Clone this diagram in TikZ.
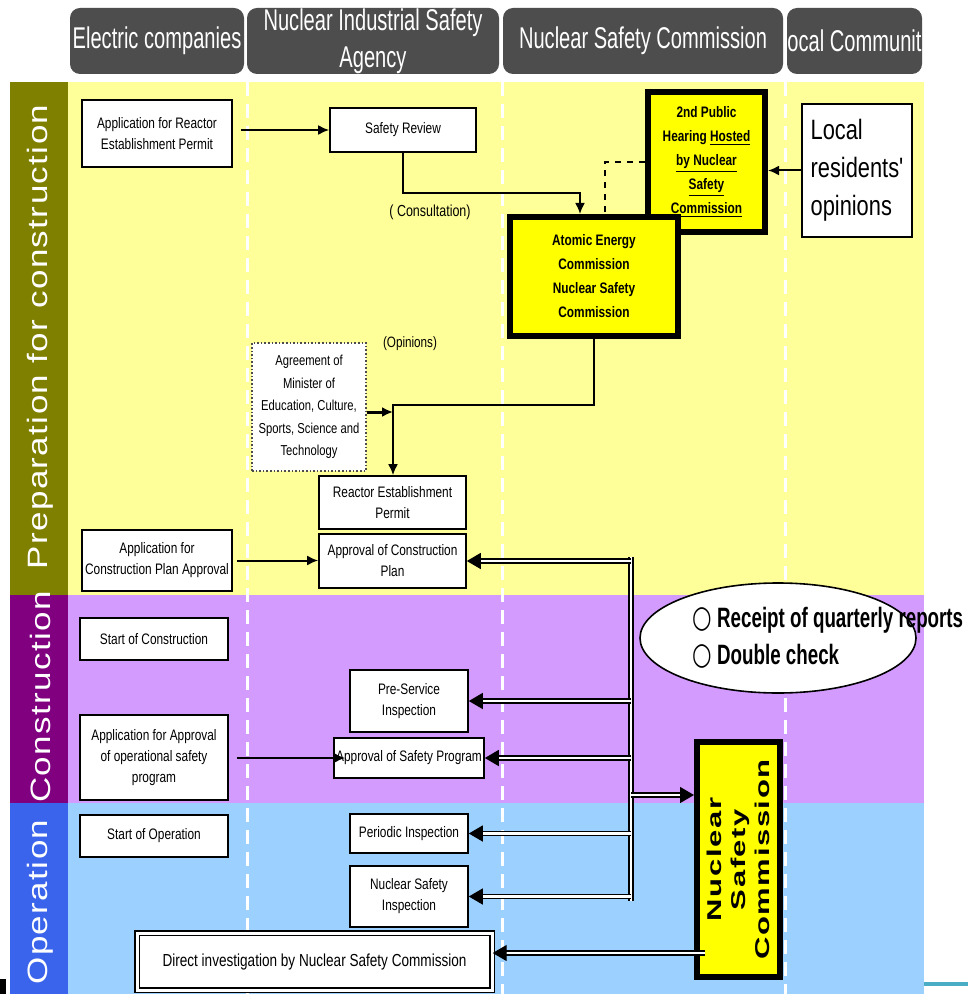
\documentclass[tikz,border=0pt]{standalone}
\usepackage{fontspec}
\setmainfont{Liberation Sans}
\newfontfamily\narrowfont[FakeStretch=0.78]{Liberation Sans}
\newfontfamily\condfont[FakeStretch=0.67]{Liberation Sans}
\newfontfamily\bandfont[FakeStretch=1.25,LetterSpace=5]{Liberation Sans}
\newfontfamily\widefont[FakeStretch=1.55,LetterSpace=8]{Liberation Sans}
\newfontfamily\symfont{DejaVu Sans}
\usetikzlibrary{arrows.meta,shapes.geometric}
\definecolor{headgray}{RGB}{77,77,77}
\definecolor{prepyellow}{RGB}{255,255,153}
\definecolor{prepolive}{RGB}{128,128,0}
\definecolor{conslilac}{RGB}{212,155,255}
\definecolor{conspurple}{RGB}{128,0,128}
\definecolor{opblue}{RGB}{155,208,255}
\definecolor{opband}{RGB}{58,100,235}
\definecolor{nscyellow}{RGB}{255,255,0}
\definecolor{rulecyan}{RGB}{75,172,198}
\newcommand{\ring}{\scalebox{0.8}[1.1]{\symfont\bfseries ○}}

\begin{document}
\begin{tikzpicture}[x=0.5pt,y=-0.5pt,
  lanehead/.style={fill=headgray,rounded corners=5pt,text=white,align=center,inner sep=0pt,font=\condfont\fontsize{15}{18.5}\selectfont},
  phaseband/.style={text=white,rotate=90,inner sep=0pt,font=\bandfont\fontsize{14}{14}\selectfont},
  pbox/.style={draw=black,line width=0.8pt,fill=white,align=center,inner sep=1pt,font=\narrowfont\fontsize{7.6}{10.5}\selectfont},
  nscbox/.style={draw=black,line width=3pt,fill=nscyellow,align=center,inner sep=1pt,font=\narrowfont\bfseries\fontsize{7.6}{12}\selectfont},
  note/.style={inner sep=0pt,font=\narrowfont\fontsize{8}{9}\selectfont},
  flow/.style={line width=1pt,-{Latex[length=5.5pt,width=5pt]}},
  tube/.style={double=white,double distance=1.3pt,line width=0.7pt},
  tubearrow/.style={tube,-{Triangle[length=7pt,width=8pt]}},
  lane/.style={white,line width=1.5pt,dash pattern=on 7pt off 4pt}]
  \useasboundingbox (0,0) rectangle (968,994);
  \fill[white] (0,0) rectangle (968,994);

  % phases
  \fill[prepyellow] (68,82) rectangle (924,595);
  \fill[prepolive] (10,82) rectangle (68,595);
  \fill[conslilac] (68,595) rectangle (924,803);
  \fill[conspurple] (10,595) rectangle (68,803);
  \fill[opblue] (68,803) rectangle (924,994);
  \fill[opband] (10,803) rectangle (68,994);
  \fill[rulecyan] (924,982) rectangle (968,986);
  \fill[black] (0,979) rectangle (6,994);
  \node[phaseband] (prep) at (40,337) {Preparation for construction};
  \node[phaseband] (cons) at (40,697) {Construction};
  \node[phaseband] (oper) at (40,902) {Operation};
  \foreach \lx in {247,502,785}
    \draw[lane] (\lx,82) -- (\lx,994);

  % lane headers
  \node[lanehead,minimum width=87pt,minimum height=33pt] (hdcomp) at (157,41) {Electric companies};
  \node[lanehead,minimum width=126pt,minimum height=33pt] (hdnisa) at (373,41) {Nuclear Industrial Safety\\Agency};
  \node[lanehead,minimum width=140pt,minimum height=33pt] (hdnsc) at (643,41) {Nuclear Safety Commission};
  \node[lanehead,minimum width=67.5pt,minimum height=33pt] (hdlocal) at (854.5,41) {ocal Communit};

  % preparation for construction
  \node[pbox,minimum width=75pt,minimum height=33.5pt] (apprep) at (157,133.5) {Application for Reactor\\Establishment Permit};
  \node[pbox,minimum width=73pt,minimum height=22pt] (safrev) at (403,130) {Safety Review};
  \node[nscbox,minimum width=58.5pt,minimum height=70pt] (hearing) at (706.5,162) {2nd Public\\Hearing \underline{Hosted}\\\underline{by Nuclear}\\\underline{Safety}\\\underline{Commission}};
  \node[nscbox,minimum width=84pt,minimum height=59.5pt] (aec) at (594,276.5) {Atomic Energy\\Commission\\Nuclear Safety\\Commission};
  \node[pbox,align=left,minimum width=55pt,minimum height=66.5pt,font=\narrowfont\fontsize{14}{19}\selectfont] (local) at (857,170.5) {Local\\residents'\\opinions};
  \node[pbox,draw=black!70,densely dotted,line width=0.6pt,minimum width=57pt,minimum height=64pt,font=\narrowfont\fontsize{7.2}{11.2}\selectfont] (agree) at (309,407) {Agreement of\\Minister of\\Education, Culture,\\Sports, Science and\\Technology};
  \node[pbox,minimum width=73.5pt,minimum height=26.5pt] (permit) at (392.5,502.5) {Reactor Establishment\\Permit};
  \node[pbox,minimum width=73.5pt,minimum height=27pt] (acp) at (392.5,561) {Approval of Construction\\Plan};
  \node[pbox,minimum width=75pt,minimum height=30.5pt] (appcp) at (157,560.5) {Application for\\Construction Plan Approval};
  \node[note] (consultlbl) at (430,212) {( Consultation)};
  \node[note,font=\narrowfont\fontsize{7.5}{9}\selectfont] (opinionlbl) at (410,344) {(Opinions)};

  % construction
  \node[pbox,minimum width=74pt,minimum height=21pt] (startc) at (154,639) {Start of Construction};
  \node[pbox,minimum width=59pt,minimum height=31pt] (preserv) at (409,701) {Pre-Service\\Inspection};
  \node[pbox,minimum width=74pt,minimum height=42.5pt] (apposp) at (154,757.5) {Application for Approval\\of operational safety\\program};
  \node[pbox,minimum width=75pt,minimum height=20pt] (asp) at (409,758) {Approval of Safety Program};
  \node[draw=black,line width=0.8pt,fill=white,ellipse,minimum width=138pt,minimum height=55pt] (checks) at (778,638) {};
  \node[anchor=west,align=left,inner sep=0pt,font=\condfont\bfseries\fontsize{14}{18.5}\selectfont] (checktext) at (692,638) {\ring\ Receipt of quarterly reports\\\ring\ Double check};

  % operation
  \node[pbox,minimum width=74pt,minimum height=21pt] (starto) at (154,836) {Start of Operation};
  \node[pbox,minimum width=59pt,minimum height=19.5pt] (periodic) at (409,833.5) {Periodic Inspection};
  \node[pbox,minimum width=59pt,minimum height=30.5pt] (nsi) at (409,896.5) {Nuclear Safety\\Inspection};
  \node[pbox,double,double distance=1.5pt,line width=0.7pt,minimum width=177.5pt,minimum height=28.5pt,font=\narrowfont\fontsize{8.7}{10}\selectfont] (direct) at (314.5,961.5) {Direct investigation by Nuclear Safety Commission};
  \node[nscbox,minimum width=41.5pt,minimum height=117.5pt] (nscv) at (738.5,859.5) {};
  \node[rotate=90,align=center,inner sep=0pt,font=\widefont\bfseries\fontsize{10}{12}\selectfont] (nsctext) at (nscv.center) {Nuclear\\Safety\\Commission};

  % connectors
  \coordinate (consult) at (580,193);
  \coordinate (hearbend) at (605,0);
  \coordinate (opbend) at (393,405);
  \draw[flow] ([xshift=4pt]apprep.east |- safrev.west) -- (safrev.west);
  \draw[flow] (safrev.south) |- (consult) -- (consult |- aec.north);
  \draw[line width=1pt,dashed] (hearing.west) -| (hearbend |- aec.north);
  \draw[flow] (local.west) -- (local.west -| hearing.east);
  \draw[flow] (aec.south) |- (opbend) -- (opbend |- permit.north);
  \draw[flow,line width=1.5pt] ([yshift=-2.5pt]agree.east) -- ([yshift=-2.5pt]agree.east -| opbend);
  \draw[flow] ([xshift=2pt]appcp.east) -- (appcp.east -| acp.west);
  \draw[flow] ([xshift=4pt]apposp.east |- asp.west) -- ([xshift=6pt]asp.west);

  \coordinate (bustop) at (631,557);
  \coordinate (busbot) at (631,901);
  \coordinate (busnsc) at (631,795);
  \coordinate (nscout) at (705,953);
  \draw[tube] (bustop) -- (busbot);
  \foreach \tgt in {acp,preserv,asp,periodic,nsi}
    \draw[tubearrow] (\tgt.east -| bustop) -- (\tgt.east);
  \draw[tubearrow] (busnsc) -- (busnsc -| nscv.west);
  \draw[tubearrow] (nscout) -- (nscout -| direct.east);
\end{tikzpicture}
\end{document}
